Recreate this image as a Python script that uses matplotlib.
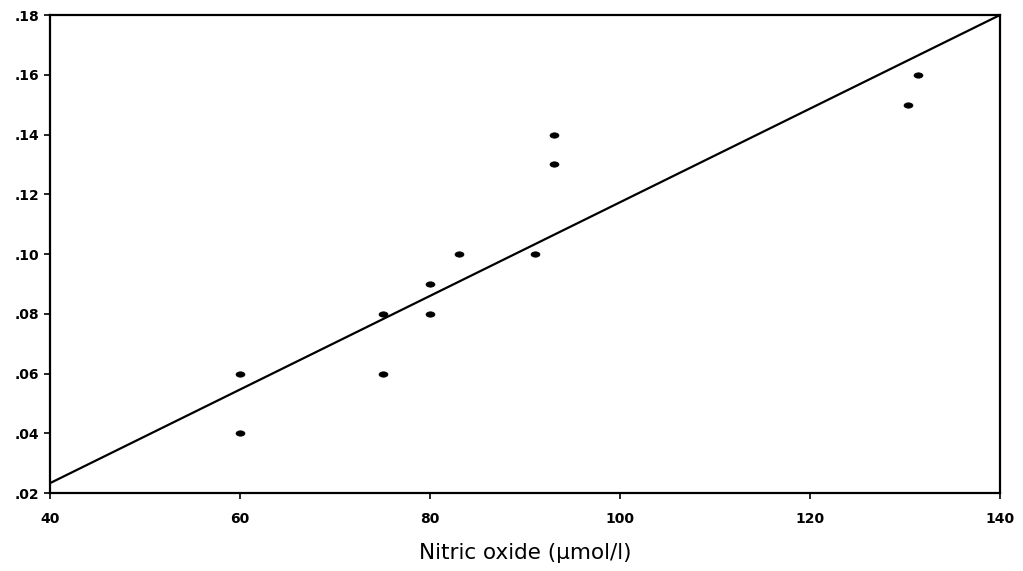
import matplotlib
matplotlib.use('Agg')
import numpy as np
import matplotlib.pyplot as plt
from matplotlib.ticker import FuncFormatter

# ────────────────────────────────────────────────────────────────────────────────
# values

no_x = [60, 60, 75, 75, 80, 80, 83, 91, 93, 93, 130.3, 131.4]
val_y = [0.06, 0.04, 0.08, 0.06, 0.09, 0.08, 0.10, 0.10, 0.14, 0.13, 0.15, 0.16]

fit_x = [40, 140]
fit_y = [0.0233, 0.18]

x_ticks = [40, 60, 80, 100, 120, 140]
y_ticks = [0.02, 0.04, 0.06, 0.08, 0.10, 0.12, 0.14, 0.16, 0.18]

# ────────────────────────────────────────────────────────────────────────────────

plt.rcParams['font.family'] = ['DejaVu Sans']

# flat dot, like the scanned marks
t = np.linspace(0, 2 * np.pi, 24)
dot = list(zip(np.cos(t), 0.6 * np.sin(t)))

fig = plt.figure(figsize=(10.23, 5.71), dpi=100)
ax = fig.add_axes([0.0489, 0.1366, 0.9286, 0.8371])

ax.plot(fit_x, fit_y, color='black', linewidth=1.6)
ax.plot(no_x, val_y, linestyle='none', marker=dot, markersize=6.5,
        markerfacecolor='black', markeredgecolor='black', markeredgewidth=0.5)

ax.set_xlim(40, 140)
ax.set_ylim(0.02, 0.18)
ax.set_xticks(x_ticks)
ax.set_yticks(y_ticks)
ax.yaxis.set_major_formatter(FuncFormatter(lambda v, p: ('%.2f' % v)[1:]))

for s in ax.spines.values():
    s.set_linewidth(1.6)
ax.tick_params(direction='out', length=4, width=1.2, labelsize=10)
for lab in ax.get_xticklabels() + ax.get_yticklabels():
    lab.set_fontweight('bold')
ax.tick_params(axis='x', pad=10)
ax.tick_params(axis='y', pad=4)

ax.set_xlabel('Nitric oxide (\u00b5mol/l)', fontsize=15.5, labelpad=12)

plt.savefig('out.png', dpi=100)
